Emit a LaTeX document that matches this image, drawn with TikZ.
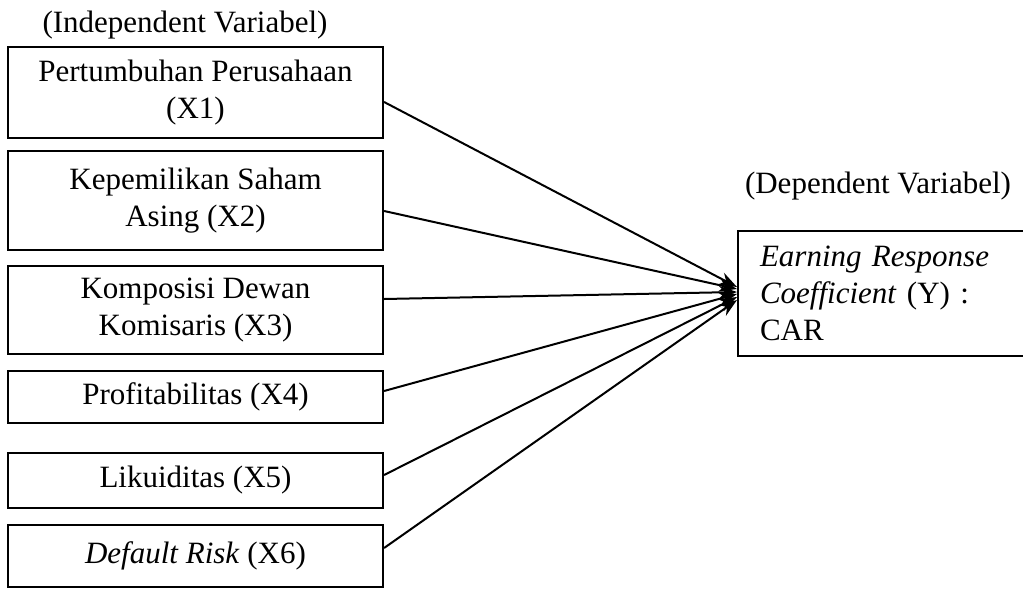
\documentclass[tikz,border=0pt]{standalone}
\usepackage{fontspec}
\setmainfont{Liberation Serif}
\usetikzlibrary{calc,arrows.meta}
\begin{document}
\begin{tikzpicture}[x=1pt,y=-1pt,
  txt/.style={font=\fontsize{31}{37}\selectfont},
  varbox/.style={txt,draw,line width=2.2pt,minimum width=375pt,align=center,inner sep=0pt},
  link/.style={line width=2pt,-{Stealth[length=18pt,width=13pt]}}]
\useasboundingbox (0,0) rectangle (1023,589);
\clip (0,0) rectangle (1023,589);
\fill[white] (0,0) rectangle (1023,589);
\node[txt,anchor=base] (lind) at (185,32) {(Independent Variabel)};
\node[txt,anchor=base] (ldep) at (878,193) {(Dependent Variabel)};
\node[varbox,minimum height=91pt] (x1) at (195.5,92.5) {Pertumbuhan Perusahaan\\(X1)};
\node[varbox,minimum height=99pt] (x2) at (195.5,200.5) {Kepemilikan Saham\\Asing (X2)};
\node[varbox,minimum height=88pt] (x3) at (195.5,310) {Komposisi Dewan\\Komisaris (X3)};
\node[varbox,minimum height=52pt] (x4) at (195.5,397) {Profitabilitas (X4)};
\node[varbox,minimum height=55pt] (x5) at (195.5,480.5) {Likuiditas (X5)};
\node[varbox,minimum height=62pt] (x6) at (195.5,556) {\textit{Default Risk} (X6)};
\node[txt,draw,line width=2.2pt,minimum height=125pt,text width=258pt,inner xsep=22pt,inner ysep=0pt,align=left] (y) at (889,293.5)
  {\textit{Earning Response}\\\textit{Coefficient} (Y) :\\CAR};
\coordinate (t1) at (737,287);
\coordinate (t2) at (737,289);
\coordinate (t3) at (737,292);
\coordinate (t4) at (737,294);
\coordinate (t5) at (737,297);
\coordinate (t6) at (737,300);
\draw[link] ($(x1.east)+(0,9.5)$) -- (t1);
\draw[link] ($(x2.east)+(0,10.5)$) -- (t2);
\draw[link] ($(x3.east)+(0,-11)$) -- (t3);
\draw[link] ($(x4.east)+(0,-6)$) -- (t4);
\draw[link] ($(x5.east)+(0,-5.5)$) -- (t5);
\draw[link] ($(x6.east)+(0,-8)$) -- (t6);
\end{tikzpicture}
\end{document}
